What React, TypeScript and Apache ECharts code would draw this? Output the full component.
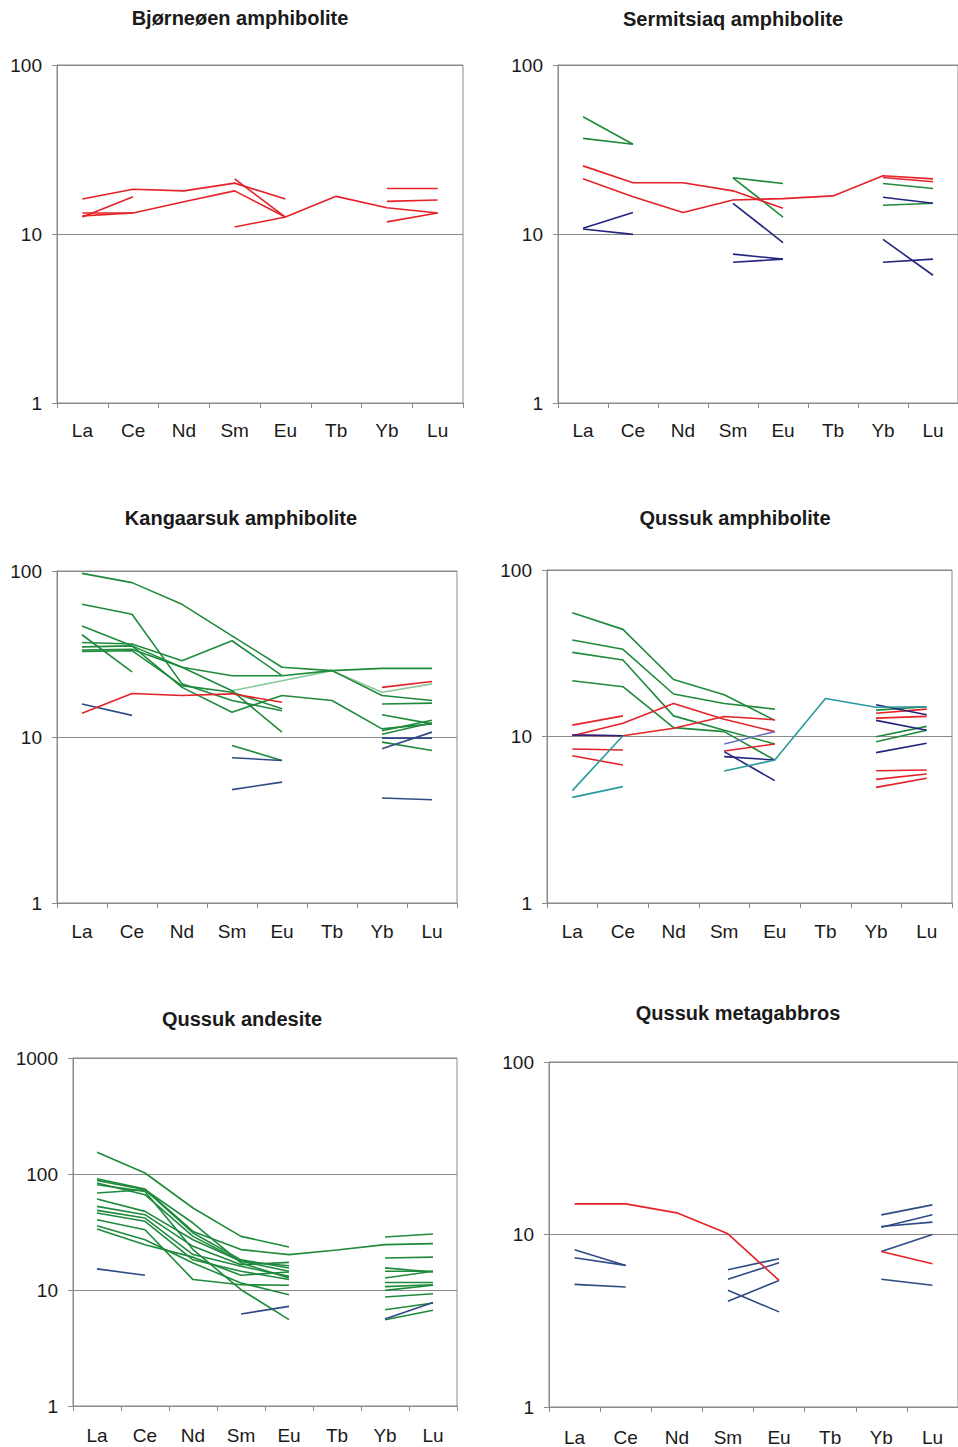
import React, { useEffect, useRef } from "react";
import * as echarts from "echarts";

const N = null;
const REE = ["La", "Ce", "Nd", "Sm", "Eu", "Tb", "Yb", "Lu"];

const RED = "#e42228";
const GREEN = "#1f8a3c";
const NAVY = "#23247e";
const SLATE = "#2f4a84";
const TEAL = "#2a9a9c";
const PALE = "#8cc99a";

// ---------- Bjørneøen amphibolite ----------
const bjorneoenRed = [
  [16.1, 18.4, 18.0, 20.0, 16.1, N, N, N],
  [13.3, 13.3, 15.5, 18.0, 12.6, 16.7, 14.3, 13.3],
  [12.6, 16.6, N, N, N, N, N, N],
  [12.8, 13.3, N, 21.2, 12.6, N, N, N],
  [N, N, N, 11.0, 12.6, N, N, N],
  [N, N, N, N, N, N, 18.6, 18.6],
  [N, N, N, N, N, N, 15.6, 15.9],
  [N, N, N, N, N, N, 11.8, 13.3],
];

// ---------- Sermitsiaq amphibolite ----------
const sermitsiaqGreen = [
  [49.4, 34.0, N, N, N, N, N, N],
  [36.8, 34.0, N, N, N, N, N, N],
  [N, N, N, 21.5, 19.9, N, N, N],
  [N, N, N, 21.5, 12.6, N, N, N],
  [N, N, N, N, N, N, 19.9, 18.6],
  [N, N, N, N, N, N, 14.8, 15.2],
];
const sermitsiaqNavy = [
  [10.8, 13.4, N, N, N, N, N, N],
  [10.7, 9.95, N, N, N, N, N, N],
  [N, N, N, 15.2, 8.9, N, N, N],
  [N, N, N, 7.6, 7.1, N, N, N],
  [N, N, N, 6.8, 7.1, N, N, N],
  [N, N, N, N, N, N, 16.5, 15.2],
  [N, N, N, N, N, N, 9.3, 5.7],
  [N, N, N, N, N, N, 6.8, 7.1],
];
const sermitsiaqRed = [
  [25.3, 20.1, 20.1, 18.0, 14.2, N, N, N],
  [21.2, 16.6, 13.4, 15.9, 16.2, 16.8, 22.1, 21.2],
  [N, N, N, N, N, N, 21.6, 20.4],
];

// ---------- Kangaarsuk amphibolite ----------
const kangaarsukGreen = [
  [96.8, 85.1, 63.0, 40.7, 26.3, 25.1, 17.8, 16.6],
  [63.0, 54.9, 20.9, 16.6, 14.4, N, N, N],
  [46.7, 35.4, 26.3, 23.4, 23.4, 25.1, 25.9, 25.9],
  [41.3, 24.7, N, N, N, N, N, N],
  [37.1, 36.3, 28.8, 38.0, 23.4, N, N, N],
  [34.9, 35.4, 19.9, 14.1, 17.8, 16.6, 11.2, 12.0],
  [33.4, 33.8, 26.3, 19.0, 10.7, N, N, N],
  [32.8, 33.1, 20.4, 18.6, 14.8, N, 15.8, 16.0],
  [N, N, N, 8.89, 7.22, N, N, N],
  [N, N, N, N, N, N, 13.6, 12.0],
  [N, N, N, N, N, N, 10.9, 12.6],
  [N, N, N, N, N, N, 10.4, 12.2],
  [N, N, N, N, N, N, 9.31, 8.29],
];
const kangaarsukPale = [
  [N, N, N, 19.0, 21.8, 25.1, 18.6, 20.9],
];
const kangaarsukRed = [
  [13.9, 18.3, 17.8, 18.2, 16.2, N, N, N],
  [N, N, N, N, N, N, 19.9, 21.6],
];
const kangaarsukBlue = [
  [15.8, 13.5, N, N, N, N, N, N],
  [N, N, N, 7.5, 7.22, N, N, N],
  [N, N, N, 4.82, 5.35, N, N, N],
  [N, N, N, N, N, N, 9.84, 9.84],
  [N, N, N, N, N, N, 8.49, 10.7],
  [N, N, N, N, N, N, 4.29, 4.19],
];

// ---------- Qussuk amphibolite ----------
const qussukAmphGreen = [
  [55.4, 44.0, 22.0, 17.8, 12.5, N, N, N],
  [38.0, 33.4, 18.0, 15.8, 14.6, N, N, N],
  [32.0, 28.8, 13.3, 10.9, 9.02, N, N, N],
  [21.6, 19.9, 11.3, 10.7, 7.22, N, N, N],
  [N, N, N, N, N, N, 9.97, 11.5],
  [N, N, N, N, N, N, 9.31, 10.9],
  [N, N, N, N, N, N, 14.4, 15.1],
];
const qussukAmphTeal = [
  [4.73, 10.1, N, N, N, N, N, N],
  [4.31, 5.0, N, N, N, N, N, N],
  [N, N, N, 6.21, 7.22, 16.9, 15.0, 15.1],
];
const qussukAmphRed = [
  [11.7, 13.3, N, N, N, N, N, N],
  [10.1, 12.0, 15.8, 12.7, 10.7, N, N, N],
  [10.2, 10.1, 11.2, 13.2, 12.6, N, N, N],
  [8.41, 8.29, N, N, N, N, N, N],
  [7.67, 6.74, N, N, N, N, N, N],
  [N, N, N, 8.18, 9.02, N, N, N],
  [N, N, N, N, N, N, 13.8, 14.6],
  [N, N, N, N, N, N, 12.9, 13.2],
  [N, N, N, N, N, N, 6.23, 6.29],
  [N, N, N, N, N, N, 5.53, 5.96],
  [N, N, N, N, N, N, 4.95, 5.61],
];
const qussukAmphNavy = [
  [10.2, 10.1, N, N, N, N, N, N],
  [N, N, N, 8.11, 5.43, N, N, N],
  [N, N, N, 7.57, 7.22, N, N, N],
  [N, N, N, N, N, N, 12.5, 10.9],
  [N, N, N, N, N, N, 8.0, 9.1],
  [N, N, N, N, N, N, 15.5, 13.5],
];
const qussukAmphSlate = [
  [N, N, N, 9.02, 10.7, N, N, N],
];

// ---------- Qussuk andesite ----------
const andesiteGreen = [
  [153.7, 102, 50.9, 29.0, 23.5, N, N, N],
  [91.1, 74.2, 32.0, 22.3, 20.2, 22.1, 24.6, 25.1],
  [88.1, 73.2, 37.8, 17.1, 12.7, N, N, N],
  [80.9, 70.8, 22.3, 10.06, 5.55, N, N, N],
  [83.6, 66.3, 29.0, 17.7, 16.2, N, N, N],
  [68.5, 73.2, 31.0, 18.2, 15.5, N, N, N],
  [60.8, 47.6, 27.1, 17.7, 14.5, N, N, N],
  [52.6, 44.6, 23.8, 16.5, 17.3, N, N, N],
  [48.6, 41.7, 20.2, 16.0, 13.1, N, N, N],
  [46.1, 39.1, 18.2, 14.5, 12.3, N, N, N],
  [40.4, 33.1, 12.3, 11.1, 11.0, N, N, N],
  [35.8, 27.1, 17.1, 11.5, 9.11, N, N, N],
  [33.5, 24.6, 19.2, 13.4, 14.3, N, N, N],
  [N, N, N, N, N, N, 28.6, 30.4],
  [N, N, N, N, N, N, 18.9, 19.2],
  [N, N, N, N, N, N, 15.5, 14.3],
  [N, N, N, N, N, N, 14.5, 14.5],
  [N, N, N, N, N, N, 12.7, 14.5],
  [N, N, N, N, N, N, 11.6, 11.6],
  [N, N, N, N, N, N, 10.7, 11.1],
  [N, N, N, N, N, N, 9.93, 11.0],
  [N, N, N, N, N, N, 8.7, 9.29],
  [N, N, N, N, N, N, 6.76, 7.72],
  [N, N, N, N, N, N, 5.55, 6.68],
];
const andesiteBlue = [
  [15.2, 13.4, N, N, N, N, N, N],
  [N, N, N, 6.21, 7.23, N, N, N],
  [N, N, N, N, N, N, 5.62, 7.82],
];

// ---------- Qussuk metagabbros ----------
const metagabbroBlue = [
  [8.16, 6.62, N, N, N, N, N, N],
  [7.33, 6.62, N, N, N, N, N, N],
  [5.14, 4.96, N, N, N, N, N, N],
  [N, N, N, 6.25, 7.24, N, N, N],
  [N, N, N, 5.5, 6.86, N, N, N],
  [N, N, N, 4.1, 5.42, N, N, N],
  [N, N, N, 4.75, 3.56, N, N, N],
  [N, N, N, N, N, N, 13.0, 14.85],
  [N, N, N, N, N, N, 11.03, 13.0],
  [N, N, N, N, N, N, 11.13, 11.79],
  [N, N, N, N, N, N, 7.98, 10.0],
  [N, N, N, N, N, N, 5.5, 5.08],
];
const metagabbroRed = [
  [15.05, 15.05, 13.35, 10.09, 5.42, N, N, N],
  [N, N, N, N, N, N, 7.98, 6.77],
];

const PANELS = [
  {
    title: "Bjørneøen amphibolite", tx: 240, ty: 18, xm: 18,
    left: 57, top: 65, width: 406, height: 338, max: 100,
    groups: [{ color: RED, rows: bjorneoenRed }],
  },
  {
    title: "Sermitsiaq amphibolite", tx: 733, ty: 19, xm: 18,
    left: 558, top: 65, width: 407, height: 338, max: 100,
    groups: [
      { color: GREEN, rows: sermitsiaqGreen },
      { color: NAVY, rows: sermitsiaqNavy },
      { color: RED, rows: sermitsiaqRed },
    ],
  },
  {
    title: "Kangaarsuk amphibolite", tx: 241, ty: 518, xm: 19,
    left: 57, top: 571, width: 400, height: 332, max: 100,
    groups: [
      { color: PALE, rows: kangaarsukPale },
      { color: GREEN, rows: kangaarsukGreen },
      { color: SLATE, rows: kangaarsukBlue },
      { color: RED, rows: kangaarsukRed },
    ],
  },
  {
    title: "Qussuk amphibolite", tx: 735, ty: 518, xm: 19,
    left: 547, top: 570, width: 405, height: 333, max: 100,
    groups: [
      { color: GREEN, rows: qussukAmphGreen },
      { color: RED, rows: qussukAmphRed },
      { color: NAVY, rows: qussukAmphNavy },
      { color: "#6b6fc0", rows: qussukAmphSlate },
      { color: TEAL, rows: qussukAmphTeal },
    ],
  },
  {
    title: "Qussuk andesite", tx: 242, ty: 1019, xm: 20,
    left: 73, top: 1058, width: 384, height: 348, max: 1000,
    groups: [
      { color: GREEN, rows: andesiteGreen },
      { color: SLATE, rows: andesiteBlue },
    ],
  },
  {
    title: "Qussuk metagabbros", tx: 738, ty: 1013, xm: 21,
    left: 549, top: 1062, width: 409, height: 346, max: 100,
    groups: [
      { color: SLATE, rows: metagabbroBlue },
      { color: RED, rows: metagabbroRed },
    ],
  },
];

const FONT = '"Liberation Sans", Arial, sans-serif';
const AXIS_GRAY = "#8a8a8a";

export default function App() {
  const ref = useRef<HTMLDivElement>(null);
  useEffect(() => {
    if (!ref.current) return;
    const chart = echarts.init(ref.current, null, { renderer: "svg" });
    const grid: any[] = [];
    const xAxis: any[] = [];
    const yAxis: any[] = [];
    const series: any[] = [];
    const graphic: any[] = [];
    PANELS.forEach((p, i) => {
      grid.push({
        left: p.left, top: p.top, width: p.width, height: p.height,
        show: true, borderColor: AXIS_GRAY, borderWidth: 1,
        backgroundColor: "transparent",
      });
      xAxis.push({
        type: "category", gridIndex: i, data: REE, boundaryGap: true,
        axisLine: { show: true, lineStyle: { color: AXIS_GRAY, width: 1 } },
        axisTick: { show: true, length: 5, lineStyle: { color: AXIS_GRAY } },
        axisLabel: { interval: 0, fontSize: 19, color: "#1a1a1a", margin: p.xm, fontFamily: FONT },
        splitLine: { show: false },
      });
      yAxis.push({
        type: "log", logBase: 10, gridIndex: i, min: 1, max: p.max,
        axisLine: { show: true, lineStyle: { color: AXIS_GRAY, width: 1 } },
        axisTick: { show: true, length: 5, lineStyle: { color: AXIS_GRAY } },
        axisLabel: {
          fontSize: 19, color: "#1a1a1a", margin: 15, fontFamily: FONT,
          formatter: (v: number) => String(Math.round(v)),
        },
        splitLine: { show: true, lineStyle: { color: AXIS_GRAY, width: 1 } },
        minorTick: { show: false },
      });
      p.groups.forEach((g) => {
        g.rows.forEach((row) => {
          series.push({
            type: "line", xAxisIndex: i, yAxisIndex: i, data: row,
            symbol: "none", showSymbol: false, connectNulls: false, silent: true,
            lineStyle: { color: g.color, width: 1.6 },
            itemStyle: { color: g.color },
          });
        });
      });
      graphic.push({
        type: "text", x: p.tx, y: p.ty,
        style: {
          text: p.title, fill: "#1a1a1a",
          font: `bold 20px ${FONT}`, align: "center", verticalAlign: "middle",
        },
      });
    });
    chart.setOption({
      animation: false,
      backgroundColor: "#ffffff",
      grid, xAxis, yAxis, series, graphic,
    });
    return () => chart.dispose();
  }, []);
  return (
    <div
      ref={ref}
      style={{ position: "absolute", left: 0, top: 0, width: 958, height: 1447 }}
    />
  );
}
